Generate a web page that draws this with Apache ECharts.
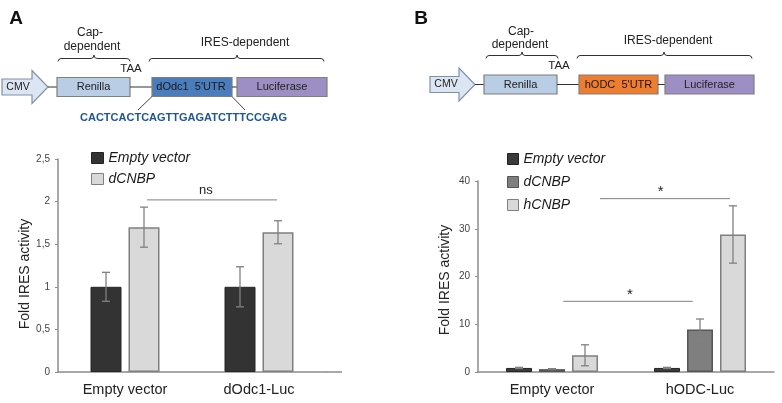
<!DOCTYPE html>
<html><head><meta charset="utf-8">
<script src="https://cdn.jsdelivr.net/npm/echarts@6/dist/echarts.min.js"></script>
<style>html,body{margin:0;padding:0;background:#fff}#c{width:782px;height:403px}</style>
</head><body><div id="c"></div>
<script>
// ---- Data: panel A ----
const catsA = ['Empty vector', 'dOdc1-Luc'];
const seriesNamesA = ['Empty vector', 'dCNBP'];
const emptyA = [1.0, 1.0];
const dcnbpA = [1.70, 1.64];
const errEmptyA = [0.17, 0.235];
const errDcnbpA = [0.235, 0.135];
const ticksA = ['0', '0,5', '1', '1,5', '2', '2,5'];
// ---- Data: panel B ----
const catsB = ['Empty vector', 'hODC-Luc'];
const seriesNamesB = ['Empty vector', 'dCNBP', 'hCNBP'];
const emptyB = [0.85, 0.85];
const dcnbpB = [0.6, 8.9];
const hcnbpB = [3.5, 28.8];
const errEmptyB = [0.12, 0.12];
const errDcnbpB = [0.1, 2.2];
const errHcnbpB = [2.2, 6.0];
const ticksB = ['0', '10', '20', '30', '40'];
// significance annotations: [cat1, frac1, cat2, frac2, yLevel, labelPosAlongLine]
const sigA = [[0, 0.164, 1, 0.134, 2.02, 0.454]];
const sigLabelsA = ['ns'];
const sigB = [[0, 0.325, 1, 0.203, 36.3, 0.467], [0, 0.076, 1, -0.049, 14.8, 0.515]];
const sigLabelsB = ['*', '*'];

const FONT = '"Liberation Sans", Arial, sans-serif';
const chart = echarts.init(document.getElementById('c'));

function errRender(n, w, g) {
  return function (params, api) {
    const cat = api.value(0), v = api.value(1), e = api.value(2), s = api.value(3);
    const c = api.coord([cat, v]);
    const total = n * w + (n - 1) * g;
    const x = c[0] - total / 2 + s * (w + g) + w / 2;
    const top = api.coord([cat, v + e])[1];
    const bot = api.coord([cat, Math.max(0, v - e)])[1];
    const st = { stroke: '#808080', lineWidth: 1.3 };
    return { type: 'group', children: [
      { type: 'line', shape: { x1: x, y1: top, x2: x, y2: bot }, style: st },
      { type: 'line', shape: { x1: x - 4, y1: top, x2: x + 4, y2: top }, style: st },
      { type: 'line', shape: { x1: x - 4, y1: bot, x2: x + 4, y2: bot }, style: st }
    ]};
  };
}
function sigRender(labels, fs, dy) {
  return function (params, api) {
    const bw = api.size([1, 0])[0];
    const y = api.value(4);
    const p1 = api.coord([api.value(0), y]);
    const p2 = api.coord([api.value(2), y]);
    const x1 = p1[0] + api.value(1) * bw;
    const x2 = p2[0] + api.value(3) * bw;
    const lx = x1 + (x2 - x1) * api.value(5);
    return { type: 'group', children: [
      { type: 'line', shape: { x1: x1, y1: p1[1], x2: x2, y2: p1[1] }, style: { stroke: '#808080', lineWidth: 1 } },
      { type: 'text', x: lx, y: p1[1] - 3 + dy, style: { text: labels[params.dataIndex], font: fs + 'px ' + FONT, fill: '#222', align: 'center', verticalAlign: 'bottom' } }
    ]};
  };
}
function errData(vals, errs) {
  const out = [];
  vals.forEach((arr, s) => arr.forEach((v, i) => out.push([i, v, errs[s][i], s])));
  return out;
}

const axisLineStyle = { color: '#8c8c8c', width: 1.5 };

// ---- diagram graphics ----
function brace(x1, x2, mid, y) {
  return { type: 'polyline', shape: { points: [
    [x1, y + 3], [x1 + 0.8, y + 0.9], [x1 + 3, y], [mid - 3, y], [mid - 0.8, y - 0.9], [mid, y - 3.5],
    [mid + 0.8, y - 0.9], [mid + 3, y], [x2 - 3, y], [x2 - 0.8, y + 0.9], [x2, y + 3]] },
    style: { fill: null, stroke: '#333', lineWidth: 1 } };
}
function txt(t, x, y, size, opts) {
  opts = opts || {};
  return { type: 'text', x: x, y: y, rotation: opts.rot || 0,
    style: { text: t, font: (opts.weight || 'normal') + ' ' + size + 'px ' + FONT, fill: opts.color || '#222', align: 'center', verticalAlign: 'middle' } };
}
function box(x, y, w, h, fill) {
  return { type: 'rect', shape: { x: x, y: y, width: w, height: h }, style: { fill: fill, stroke: '#7f7f7f', lineWidth: 1.2 } };
}
function hline(x1, x2, y) {
  return { type: 'line', shape: { x1: x1, y1: y, x2: x2, y2: y }, style: { stroke: '#333', lineWidth: 1 } };
}
function arrow(l, hs, tip, cy, bh, hh) {
  return { type: 'polygon', shape: { points: [[l, cy - bh], [hs, cy - bh], [hs, cy - hh], [tip, cy], [hs, cy + hh], [hs, cy + bh], [l, cy + bh]] },
    style: { fill: '#dce6f2', stroke: '#8090a8', lineWidth: 1.2 } };
}

const graphics = [
  // Panel A diagram
  txt('A', 16, 19, 19, { weight: 'bold', color: '#111' }),
  txt('Cap-', 90, 33, 12), txt('dependent', 92, 46.5, 12),
  brace(58, 130, 94, 58.5),
  txt('IRES-dependent', 245, 43, 12),
  brace(149, 324, 237, 58.5),
  txt('TAA', 131, 69, 11.5),
  arrow(2, 32, 48, 87, 8, 16.5),
  txt('CMV', 18, 87, 10.5),
  hline(48, 57, 87),
  box(57, 77.5, 73, 19, '#b9cde5'), txt('Renilla', 93.5, 87, 11),
  hline(130, 152, 87),
  box(152, 77.5, 80, 19, '#4b7cbc'), txt("dOdc1  5'UTR", 191, 87, 11, { color: '#1a1a1a' }),
  hline(232, 237, 87),
  box(237, 77.5, 90, 19, '#9d8fc4'), txt('Luciferase', 282, 87, 11),
  { type: 'line', shape: { x1: 152, y1: 96.5, x2: 138, y2: 110 }, style: { stroke: '#444', lineWidth: 1 } },
  { type: 'line', shape: { x1: 232, y1: 96.5, x2: 245, y2: 110 }, style: { stroke: '#444', lineWidth: 1 } },
  txt('CACTCACTCAGTTGAGATCTTTCCGAG', 183.5, 118, 11, { weight: 'bold', color: '#1f5596' }),
  // Panel B diagram
  txt('B', 421, 19, 19, { weight: 'bold', color: '#111' }),
  txt('Cap-', 521, 32, 12), txt('dependent', 520, 45, 12),
  brace(486, 558, 522, 55.5),
  txt('IRES-dependent', 668, 41, 12),
  brace(577, 752, 664, 55.5),
  txt('TAA', 559, 66, 11.5),
  arrow(430, 459, 475, 84.5, 8, 16.5),
  txt('CMV', 446, 84.5, 10.5),
  hline(475, 484, 84.5),
  box(484, 75, 73, 19, '#b9cde5'), txt('Renilla', 520.5, 84.5, 11),
  hline(557, 579, 84.5),
  box(579, 75, 79, 19, '#ef7d2f'), txt("hODC  5'UTR", 618.5, 84.5, 11, { color: '#1a1a1a' }),
  hline(658, 665, 84.5),
  box(665, 75, 89, 19, '#9d8fc4'), txt('Luciferase', 709.5, 84.5, 11),
  // y-axis titles
  txt('Fold IRES activity', 25, 274, 14, { rot: Math.PI / 2 }),
  txt('Fold IRES activity', 445, 280, 14, { rot: Math.PI / 2 }),
  // x-axis line extension (panel A)
  { type: 'line', shape: { x1: 326, y1: 372, x2: 342, y2: 372 }, style: { stroke: '#8c8c8c', lineWidth: 1.5 } }
];

const wA = 31, gA = 7, wB = 26, gB = 7;

const option = {
  animation: false,
  textStyle: { fontFamily: FONT },
  grid: [
    { left: 58, right: 456, top: 159, bottom: 31 },
    { left: 478, right: 8, top: 181, bottom: 31 }
  ],
  xAxis: [
    { type: 'category', gridIndex: 0, data: catsA, axisLine: { lineStyle: axisLineStyle }, axisTick: { show: false },
      axisLabel: { fontSize: 14.5, color: '#222', margin: 10 } },
    { type: 'category', gridIndex: 1, data: catsB, axisLine: { lineStyle: axisLineStyle }, axisTick: { show: false },
      axisLabel: { fontSize: 14.5, color: '#222', margin: 10 } }
  ],
  yAxis: [
    { type: 'value', gridIndex: 0, min: 0, max: 2.5, interval: 0.5, splitLine: { show: false },
      axisLine: { show: true, lineStyle: axisLineStyle }, axisTick: { show: true, length: 3, lineStyle: { color: '#8c8c8c' } },
      axisLabel: { fontSize: 10, color: '#444', margin: 8, formatter: (v) => ticksA[Math.round(v / 0.5)] } },
    { type: 'value', gridIndex: 1, min: 0, max: 40, interval: 10, splitLine: { show: false },
      axisLine: { show: true, lineStyle: axisLineStyle }, axisTick: { show: true, length: 3, lineStyle: { color: '#8c8c8c' } },
      axisLabel: { fontSize: 10, color: '#444', margin: 8, formatter: (v) => ticksB[Math.round(v / 10)] } }
  ],
  legend: [
    { left: 86, top: 146, orient: 'vertical', itemWidth: 12, itemHeight: 11, itemGap: 7,
      textStyle: { fontSize: 14, fontStyle: 'italic', color: '#1a1a1a' },
      data: [
        { name: seriesNamesA[0], icon: 'rect', itemStyle: { color: '#333333', borderColor: '#222', borderWidth: 1 } },
        { name: seriesNamesA[1], icon: 'rect', itemStyle: { color: '#d9d9d9', borderColor: '#7f7f7f', borderWidth: 1 } }
      ] },
    { left: 502, top: 147, orient: 'vertical', itemWidth: 11, itemHeight: 11, itemGap: 9,
      textStyle: { fontSize: 14, fontStyle: 'italic', color: '#1a1a1a' },
      data: [
        { name: seriesNamesB[0], icon: 'rect', itemStyle: { color: '#3b3b3b', borderColor: '#222', borderWidth: 1 } },
        { name: seriesNamesB[1], icon: 'rect', itemStyle: { color: '#7f7f7f', borderColor: '#555', borderWidth: 1 } },
        { name: seriesNamesB[2], icon: 'rect', itemStyle: { color: '#d9d9d9', borderColor: '#7f7f7f', borderWidth: 1 } }
      ] }
  ],
  graphic: graphics,
  series: [
    { type: 'bar', name: seriesNamesA[0], xAxisIndex: 0, yAxisIndex: 0, data: emptyA, barWidth: wA, barGap: (gA / wA * 100) + '%',
      itemStyle: { color: '#333333', borderColor: '#262626', borderWidth: 1 } },
    { type: 'bar', name: seriesNamesA[1], xAxisIndex: 0, yAxisIndex: 0, data: dcnbpA, barWidth: wA, barGap: (gA / wA * 100) + '%',
      itemStyle: { color: '#d9d9d9', borderColor: '#7f7f7f', borderWidth: 1.5 } },
    { type: 'custom', xAxisIndex: 0, yAxisIndex: 0, renderItem: errRender(2, wA, gA), data: errData([emptyA, dcnbpA], [errEmptyA, errDcnbpA]), z: 10 },
    { type: 'custom', xAxisIndex: 0, yAxisIndex: 0, renderItem: sigRender(sigLabelsA, 13, 0), data: sigA, z: 10 },
    { type: 'bar', name: seriesNamesB[0], xAxisIndex: 1, yAxisIndex: 1, data: emptyB, barWidth: wB, barGap: (gB / wB * 100) + '%',
      itemStyle: { color: '#3b3b3b', borderColor: '#262626', borderWidth: 1 } },
    { type: 'bar', name: seriesNamesB[1], xAxisIndex: 1, yAxisIndex: 1, data: dcnbpB, barWidth: wB, barGap: (gB / wB * 100) + '%',
      itemStyle: { color: '#7f7f7f', borderColor: '#555555', borderWidth: 1.5 } },
    { type: 'bar', name: seriesNamesB[2], xAxisIndex: 1, yAxisIndex: 1, data: hcnbpB, barWidth: wB, barGap: (gB / wB * 100) + '%',
      itemStyle: { color: '#d9d9d9', borderColor: '#7f7f7f', borderWidth: 1.5 } },
    { type: 'custom', xAxisIndex: 1, yAxisIndex: 1, renderItem: errRender(3, wB, gB), data: errData([emptyB, dcnbpB, hcnbpB], [errEmptyB, errDcnbpB, errHcnbpB]), z: 10 },
    { type: 'custom', xAxisIndex: 1, yAxisIndex: 1, renderItem: sigRender(sigLabelsB, 15, 4), data: sigB, z: 10 }
  ]
};
chart.setOption(option);
</script></body></html>
